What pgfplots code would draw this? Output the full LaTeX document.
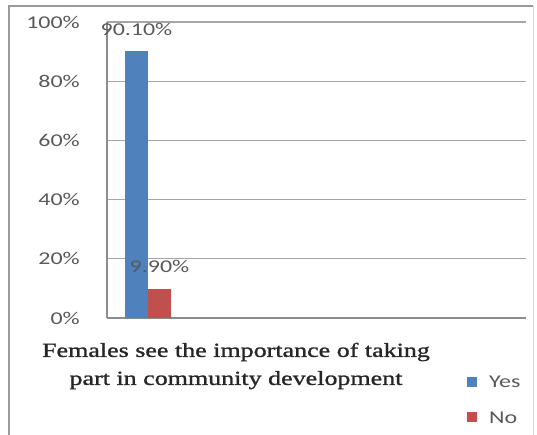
\documentclass[border=0pt]{standalone}
\usepackage{pgfplots}
\pgfplotsset{compat=1.18}
\usepackage{fontspec}
\setmainfont{Carlito}[FakeStretch=1.33]
\newfontfamily\serifx{Liberation Serif}[FakeStretch=1.3,FakeBold=1.2]
\definecolor{barblue}{HTML}{4F81BD}
\definecolor{barred}{HTML}{C0504D}
\definecolor{txt}{HTML}{595959}
\pgfkeys{/pgf/number format/assume math mode=true}
\begin{document}
\begin{tikzpicture}
\useasboundingbox (0pt,0pt) rectangle (537pt,-434pt);
\draw[black!40, line width=1.5pt] (9pt,-440pt) -- (9pt,-6pt) -- (533pt,-6pt);
\draw[black!15, line width=1pt] (533pt,-6pt) -- (533pt,-440pt);
\begin{axis}[
  at={(107pt,-318pt)}, anchor=south west,
  scale only axis, width=419pt, height=296pt,
  xmin=107, xmax=526, ymin=0, ymax=100,
  axis lines=left,
  axis line style={-, draw=black!45, line width=1.2pt},
  xtick=\empty,
  ytick={0,20,40,60,80,100},
  ymajorgrids,
  grid style={black!35, line width=1.3pt},
  major tick length=0pt,
  /pgf/number format/assume math mode=true,
  yticklabel={\pgfmathprintnumber[assume math mode=true]{\tick}\%},
  yticklabel style={anchor=east, inner sep=0pt, xshift=-27pt, font=\fontsize{18}{18}\selectfont, text=txt},
  clip=false,
  bar width=23,
  point meta=y,
  nodes near coords={\pgfmathprintnumber[fixed,fixed zerofill,precision=2,assume math mode=true]{\pgfplotspointmeta}\%},
  every node near coord/.style={anchor=center, yshift=22pt, font=\fontsize{18}{18}\selectfont, text=txt},
  legend style={at={(0.859,-0.195)}, anchor=north west, draw=none, fill=none, inner sep=0pt,
     row sep=24pt, font=\fontsize{18}{18}\selectfont, text=txt,
     nodes={inner sep=0pt, text depth=0pt}},
  legend cell align=left,
  legend image code/.code={\fill[#1] (0pt,-5pt) rectangle (10pt,5pt); \path (22pt,0pt);},
]
\addplot[ybar, bar shift=0pt, fill=barblue, draw=none] coordinates {(136.5,90.1)};
\addlegendentry{Yes}
\addplot[ybar, bar shift=0pt, fill=barred, draw=none] coordinates {(159.5,9.9)};
\addlegendentry{No}
\end{axis}
\node[font=\serifx\fontsize{20}{28}\selectfont, align=center, text=black!85] at (236pt,-366pt)
  {Females see the importance of taking\\part in community development};
\end{tikzpicture}
\end{document}
